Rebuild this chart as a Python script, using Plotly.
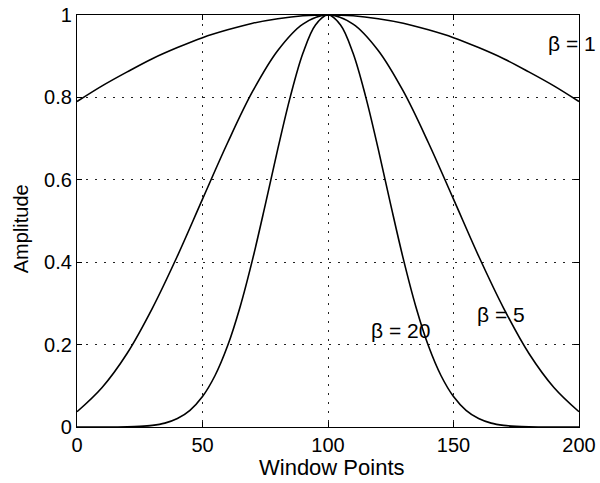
import plotly.graph_objects as go

# Window sample positions
x10 = list(range(0, 201, 10))
x5 = list(range(0, 201, 5))

# Kaiser window shapes for three beta values
amp_b1 = [0.790, 0.828, 0.862, 0.894, 0.921, 0.945, 0.964, 0.980, 0.991, 0.998, 1.000,
          0.998, 0.991, 0.980, 0.964, 0.945, 0.921, 0.894, 0.862, 0.828, 0.790]
amp_b5 = [0.037, 0.096, 0.179, 0.288, 0.415, 0.553, 0.690, 0.815, 0.914, 0.978, 1.000,
          0.978, 0.914, 0.815, 0.690, 0.553, 0.415, 0.288, 0.179, 0.096, 0.037]
amp_b20 = [0.000, 0.000, 0.000, 0.0001, 0.0004, 0.0014, 0.0039, 0.0094, 0.0205, 0.0405,
           0.0739, 0.125, 0.197, 0.292, 0.408, 0.539, 0.675, 0.802, 0.907, 0.976,
           1.000,
           0.976, 0.907, 0.802, 0.675, 0.539, 0.408, 0.292, 0.197, 0.125, 0.0739,
           0.0405, 0.0205, 0.0094, 0.0039, 0.0014, 0.0004, 0.0001, 0.000, 0.000, 0.000]

labels = ["\u03b2 = 1", "\u03b2 = 5", "\u03b2 = 20"]
label_x = [200, 169, 129]
label_y = [0.932, 0.272, 0.235]
label_anchor = ["right", "center", "center"]
label_shift = [19, 0, 0]

x_title = "Window Points"
y_title = "Amplitude"

font_family = "Liberation Sans, Arial, Helvetica, sans-serif"
label_family = "Liberation Sans Narrow, Arial Narrow, Liberation Sans, sans-serif"

fig = go.Figure()
for xs, ys in [(x10, amp_b1), (x10, amp_b5), (x5, amp_b20)]:
    fig.add_trace(go.Scatter(x=xs, y=ys, mode="lines",
                             line=dict(color="black", width=1.6, shape="spline", smoothing=1.0),
                             showlegend=False, hoverinfo="skip"))

for t, lx, ly, anc, sh in zip(labels, label_x, label_y, label_anchor, label_shift):
    fig.add_annotation(x=lx, y=ly, text=t, showarrow=False, xref="x", yref="y",
                       font=dict(family=label_family, size=21, color="black"),
                       xanchor=anc, yanchor="middle", xshift=sh)

# Axis titles placed just outside the plotting area
fig.add_annotation(x=0.508, y=0, xref="paper", yref="paper", text=x_title,
                   showarrow=False, xanchor="center", yanchor="top", yshift=-26,
                   font=dict(family=font_family, size=22, color="black"))
fig.add_annotation(x=0, y=0.48, xref="paper", yref="paper", text=y_title,
                   showarrow=False, xanchor="center", yanchor="middle", xshift=-56,
                   textangle=-90, font=dict(family=font_family, size=20, color="black"))

axis_common = dict(
    showline=True, linecolor="black", linewidth=1.2, mirror="allticks",
    ticks="inside", ticklen=5, tickcolor="black", automargin=False,
    showgrid=True, gridcolor="#222222", griddash="2px,7px", gridwidth=1,
    zeroline=False, tickfont=dict(family=font_family, size=20, color="black"),
)

fig.update_xaxes(range=[0, 200], tickvals=[0, 50, 100, 150, 200], **axis_common)
fig.update_yaxes(range=[0, 1], tickvals=[0, 0.2, 0.4, 0.6, 0.8, 1],
                 ticktext=["0", "0.2", "0.4", "0.6", "0.8", "1"], **axis_common)

fig.update_layout(width=600, height=483, plot_bgcolor="white", paper_bgcolor="white",
                  margin=dict(l=77, r=21, t=15, b=56))

fig.write_html("out.html")
